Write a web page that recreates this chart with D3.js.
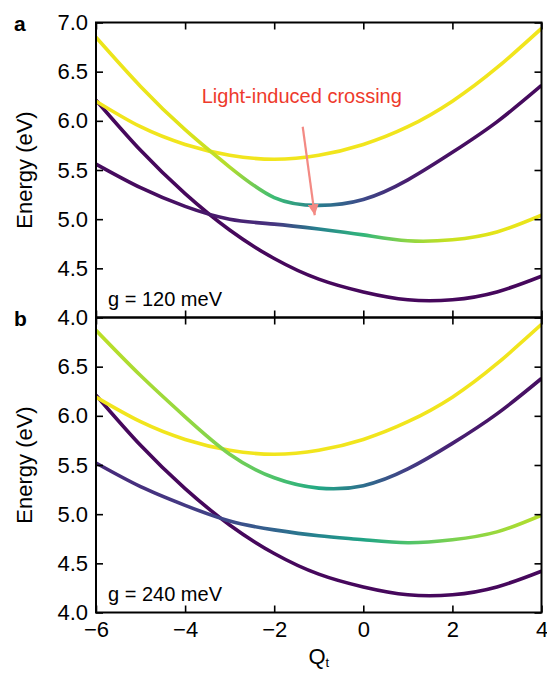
<!DOCTYPE html>
<html><head><meta charset="utf-8">
<script src="https://cdn.jsdelivr.net/npm/d3@7"></script>
<style>body{margin:0;background:#fff;} text{font-family:"Liberation Sans",Arial,sans-serif;}</style>
</head><body>
<svg id="chart" width="547" height="673"></svg>
<script>
// ---- data ----
const Q = [-6,-5,-4,-3,-2,-1,0,1,2,3,4];
const xTicks = [-6,-4,-2,0,2,4];
const yTicksA = [4.0,4.5,5.0,5.5,6.0,6.5,7.0];
const yTicksB = [4.0,4.5,5.0,5.5,6.0,6.5];

// panel a (g = 120 meV)
const aUpper      = [6.85,6.35,5.91,5.53,5.22,5.14,5.20,5.40,5.68,5.99,6.36];
const aUpperMix   = [0.97,0.97,0.95,0.88,0.68,0.42,0.22,0.08,0.04,0.03,0.03];
const aCavity     = [6.20,5.94,5.76,5.65,5.61,5.65,5.76,5.94,6.20,6.54,6.94];
const aCavityMix  = [0.98,0.98,0.98,0.98,0.98,0.98,0.98,0.98,0.98,0.98,0.98];
const aGround     = [6.21,5.70,5.26,4.89,4.60,4.39,4.26,4.18,4.18,4.26,4.42];
const aGroundMix  = [0.02,0.02,0.02,0.02,0.02,0.02,0.02,0.02,0.02,0.02,0.02];
const aLower      = [5.56,5.32,5.13,5.00,4.95,4.90,4.84,4.78,4.79,4.87,5.04];
const aLowerMix   = [0.03,0.03,0.05,0.08,0.15,0.44,0.66,0.83,0.92,0.96,0.97];

// panel b (g = 240 meV)
const bUpper      = [6.87,6.41,5.99,5.61,5.37,5.265,5.29,5.46,5.72,6.02,6.38];
const bUpperMix   = [0.90,0.87,0.84,0.80,0.72,0.60,0.36,0.18,0.09,0.05,0.04];
const bCavity     = [6.19,5.94,5.76,5.65,5.61,5.65,5.76,5.94,6.19,6.53,6.93];
const bCavityMix  = [0.98,0.98,0.98,0.98,0.98,0.98,0.98,0.98,0.98,0.98,0.98];
const bGround     = [6.21,5.70,5.26,4.89,4.60,4.39,4.26,4.18,4.18,4.26,4.42];
const bGroundMix  = [0.02,0.02,0.02,0.02,0.02,0.02,0.02,0.02,0.02,0.02,0.02];
const bLower      = [5.52,5.28,5.09,4.93,4.84,4.78,4.74,4.71,4.74,4.82,4.99];
const bLowerMix   = [0.12,0.14,0.17,0.22,0.32,0.45,0.58,0.72,0.80,0.85,0.89];

const annotText = "Light-induced crossing";
const annotPos = [-1.38, 6.18];
const arrowFrom = [-1.36, 5.94];
const arrowTo = [-1.09, 5.04];

// ---- layout ----
const svg = d3.select("#chart");
const L = 96, R = 541.5, panelH = 295;
const tops = [22.5, 317.5];
const x = d3.scaleLinear().domain([-6,4]).range([L,R]);
const defs = svg.append("defs");

const panels = [
  {top:tops[0], label:"a", g:"g = 120 meV", yt:yTicksA,
   curves:[[aGround,aGroundMix],[aLower,aLowerMix],[aCavity,aCavityMix],[aUpper,aUpperMix]]},
  {top:tops[1], label:"b", g:"g = 240 meV", yt:yTicksB,
   curves:[[bGround,bGroundMix],[bLower,bLowerMix],[bCavity,bCavityMix],[bUpper,bUpperMix]]}
];

panels.forEach((p,pi)=>{
  const y = d3.scaleLinear().domain([4,7]).range([p.top+panelH, p.top]);
  p.y = y;
  const g = svg.append("g");
  const clipId = "clip"+pi;
  defs.append("clipPath").attr("id",clipId).append("rect")
    .attr("x",L).attr("y",p.top).attr("width",R-L).attr("height",panelH);

  const line = d3.line().x(d=>x(d[0])).y(d=>y(d[1])).curve(d3.curveNatural);
  p.curves.forEach((c,ci)=>{
    const gid = "grad"+pi+"_"+ci;
    const grad = defs.append("linearGradient").attr("id",gid)
      .attr("gradientUnits","userSpaceOnUse")
      .attr("x1",x(-6)).attr("x2",x(4)).attr("y1",0).attr("y2",0);
    Q.forEach((q,i)=>{
      grad.append("stop").attr("offset",(q+6)/10)
        .attr("stop-color", d3.interpolateViridis(c[1][i]));
    });
    g.append("path").datum(Q.map((q,i)=>[q,c[0][i]]))
      .attr("d",line).attr("fill","none")
      .attr("stroke","url(#"+gid+")").attr("stroke-width",3.6)
      .attr("stroke-linecap","butt")
      .attr("clip-path","url(#"+clipId+")");
  });

  // axes (ticks inward on all sides)
  const tl = 7;
  const axL = d3.axisLeft(y).tickValues(p.yt).tickSize(-tl).tickPadding(8).tickFormat(d3.format(".1f"));
  const axR = d3.axisRight(y).tickValues(p.yt).tickSize(-tl).tickFormat("");
  const axT = d3.axisTop(x).tickValues(xTicks).tickSize(-tl).tickFormat("");
  const axB = d3.axisBottom(x).tickValues(xTicks).tickSize(-tl).tickFormat(pi===1? d3.format("d") : "").tickPadding(9);
  const styleAx = sel => { sel.select(".domain").remove();
    sel.selectAll("line").attr("stroke","#000").attr("stroke-width",1.6);
    sel.selectAll("text").attr("fill","#000").style("font-size","22px").style("font-family","'Liberation Sans',Arial,sans-serif"); };
  g.append("g").attr("transform",`translate(${L},0)`).call(axL).call(styleAx);
  g.append("g").attr("transform",`translate(${R},0)`).call(axR).call(styleAx);
  g.append("g").attr("transform",`translate(0,${p.top})`).call(axT).call(styleAx);
  g.append("g").attr("transform",`translate(0,${p.top+panelH})`).call(axB).call(styleAx);
  g.append("rect").attr("x",L).attr("y",p.top).attr("width",R-L).attr("height",panelH)
    .attr("fill","none").attr("stroke","#000").attr("stroke-width",2);

  // labels
  svg.append("text").attr("x",14).attr("y",p.top+8).text(p.label)
    .style("font-size","21px").style("font-weight","bold");
  svg.append("text").attr("x",108).attr("y",p.top+panelH-12).text(p.g)
    .style("font-size","20px");
  svg.append("text").attr("transform",`translate(32,${p.top+panelH/2}) rotate(-90)`)
    .attr("text-anchor","middle").text("Energy (eV)").style("font-size","22px");
});

// x label
const xl = svg.append("text").attr("x",(L+R)/2).attr("y",664).attr("text-anchor","middle").style("font-size","22px");
xl.append("tspan").text("Q");
xl.append("tspan").text("t").attr("dy",3).style("font-size","13px");

// annotation
const ya = panels[0].y;
svg.append("text").attr("x",x(annotPos[0])).attr("y",ya(annotPos[1])).attr("text-anchor","middle")
  .attr("fill","#ee3a2c").style("font-size","20px").text(annotText);
defs.append("marker").attr("id","arr").attr("viewBox","0 0 10 10").attr("refX",10).attr("refY",5)
  .attr("markerWidth",5).attr("markerHeight",5).attr("markerUnits","strokeWidth").attr("orient","auto")
  .append("path").attr("d","M0,0L10,5L0,10Z").attr("fill","#f38a84");
svg.append("line").attr("x1",x(arrowFrom[0])).attr("y1",ya(arrowFrom[1]))
  .attr("x2",x(arrowTo[0])).attr("y2",ya(arrowTo[1]))
  .attr("stroke","#f38a84").attr("stroke-width",2.2).attr("marker-end","url(#arr)");
</script>
</body></html>
